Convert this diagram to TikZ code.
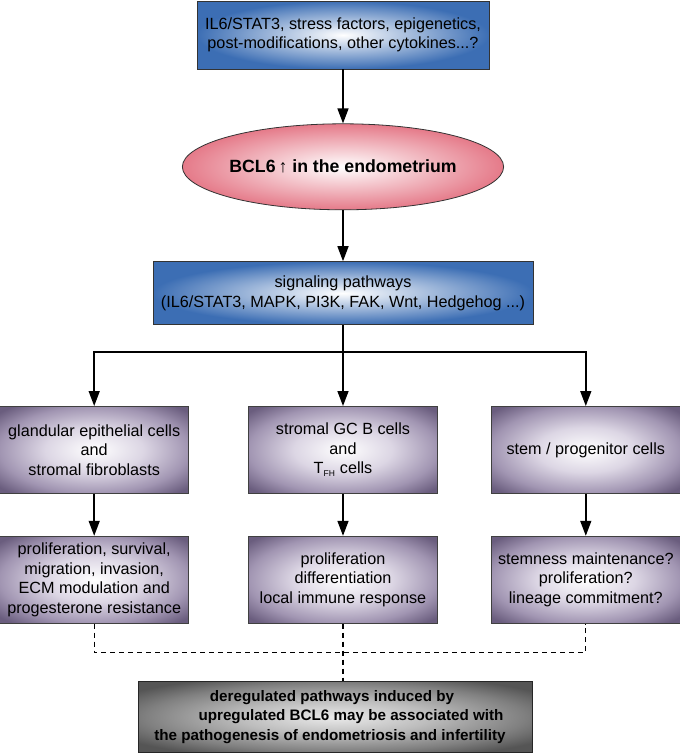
\documentclass[tikz,border=0pt]{standalone}
\usepackage{fontspec}
\setmainfont{Liberation Sans}
\usepackage{xcolor}
\definecolor{inblue}{HTML}{3C6EB4}
\definecolor{hubpink}{HTML}{E57A89}
\definecolor{lilacmid}{HTML}{DCD6E4}
\definecolor{lilacrim}{HTML}{A195B2}
\definecolor{lilacdark}{HTML}{6A5D7E}
\definecolor{graymid}{HTML}{BDBDBD}
\definecolor{grayrim}{HTML}{808080}
\definecolor{graydark}{HTML}{555555}
\usepackage{tikz}
\usetikzlibrary{
  shapes.geometric, arrows.meta, positioning, calc
}
\pgfdeclareradialshading{lilacglow}{\pgfpointorigin}{
  color(0bp)=(white); color(13bp)=(lilacmid); color(25bp)=(lilacrim);
  color(33bp)=(lilacdark); color(50bp)=(lilacdark)}
\pgfdeclareradialshading{grayglow}{\pgfpointorigin}{
  color(0bp)=(white!92!black); color(12bp)=(graymid); color(24bp)=(grayrim);
  color(31bp)=(graydark); color(50bp)=(graydark)}

\begin{document}
\begin{tikzpicture}[
  x=1pt, y=1pt,
  txt/.style={font=\fontsize{16.2}{19.5}\selectfont},
  inbox/.style={
    rectangle, draw=black!80, line width=0.8pt,
    inner color=white, outer color=inblue,
    align=center, inner sep=0pt, txt
  },
  hub/.style={
    ellipse, draw=black!80, line width=0.8pt,
    inner color=white, outer color=hubpink,
    minimum width=302pt, minimum height=86pt, inner sep=0pt,
    font=\bfseries\fontsize{17.7}{21}\selectfont
  },
  cellbox/.style={
    rectangle, draw=black!75, line width=0.8pt,
    shade, shading=lilacglow,
    minimum width=189pt, minimum height=87pt,
    align=center, inner sep=0pt, txt
  },
  outcome/.style={
    rectangle, draw=black!85, line width=0.8pt,
    shade, shading=grayglow,
    minimum width=394pt, minimum height=71pt,
    align=center, inner sep=0pt,
    font=\bfseries\fontsize{15.2}{19.5}\selectfont
  },
  arrow/.style={-{Triangle[length=15pt,width=11pt]}, line width=1.5pt},
  dashline/.style={dashed, dash pattern=on 5pt off 4pt, line width=1.1pt},
]
  \fill[white] (0,0) rectangle (680,-756);
  \useasboundingbox (0,0) rectangle (680,-756);

  \node[inbox, minimum width=292pt, minimum height=68pt] (causes) at (343,-35)
    {IL6/STAT3, stress factors, epigenetics,\\post-modifications, other cytokines...?};
  \node[hub, below=54pt of causes] (bcl) {BCL6\,↑ in the endometrium};
  \node[inbox, minimum width=380pt, minimum height=63pt, below=51pt of bcl] (signal)
    {signaling pathways\\(IL6/STAT3, MAPK, PI3K, FAK, Wnt, Hedgehog ...)};

  \node[cellbox, below=81pt of signal] (stromcell)
    {stromal GC B cells\\and\\T\textsubscript{\fontsize{8.5}{8.5}\selectfont FH} cells};
  \node[cellbox, left=59pt of stromcell] (glandcell)
    {glandular epithelial cells\\and\\stromal fibroblasts};
  \node[cellbox, right=53pt of stromcell] (stemcell) {stem / progenitor cells};

  \node[cellbox, below=42pt of glandcell] (glandfx)
    {proliferation, survival,\\migration, invasion,\\ECM modulation and\\progesterone resistance};
  \node[cellbox, below=42pt of stromcell] (stromfx)
    {proliferation\\differentiation\\local immune response};
  \node[cellbox, below=42pt of stemcell] (stemfx)
    {stemness maintenance?\\proliferation?\\lineage commitment?};

  \node[outcome] (result) at (335,-717)
    {deregulated pathways induced by\hspace*{6pt}\\
     \hspace*{32pt}upregulated BCL6 may be associated with\\
     the pathogenesis of endometriosis and infertility\hspace*{10pt}};

  \coordinate (split) at ($(signal.south)+(0,-27)$);
  \coordinate (merge) at ($(stromfx.south)+(0,-29)$);

  \draw[arrow] (causes) -- (bcl);
  \draw[arrow] (bcl) -- (signal);
  \draw[arrow] (signal) -- (stromcell);
  \draw[arrow] (split) -| (glandcell);
  \draw[arrow] (split) -| (stemcell);
  \draw[arrow] (glandcell) -- (glandfx);
  \draw[arrow] (stromcell) -- (stromfx);
  \draw[arrow] (stemcell) -- (stemfx);

  % dashed merge into the outcome
  \draw[dashline] (glandfx.south) -- (glandfx.south |- merge)
    -- (stemfx.south |- merge) -- (stemfx.south);
  \draw[dashline] (stromfx.south) -- (stromfx.south |- result.north);
\end{tikzpicture}
\end{document}
